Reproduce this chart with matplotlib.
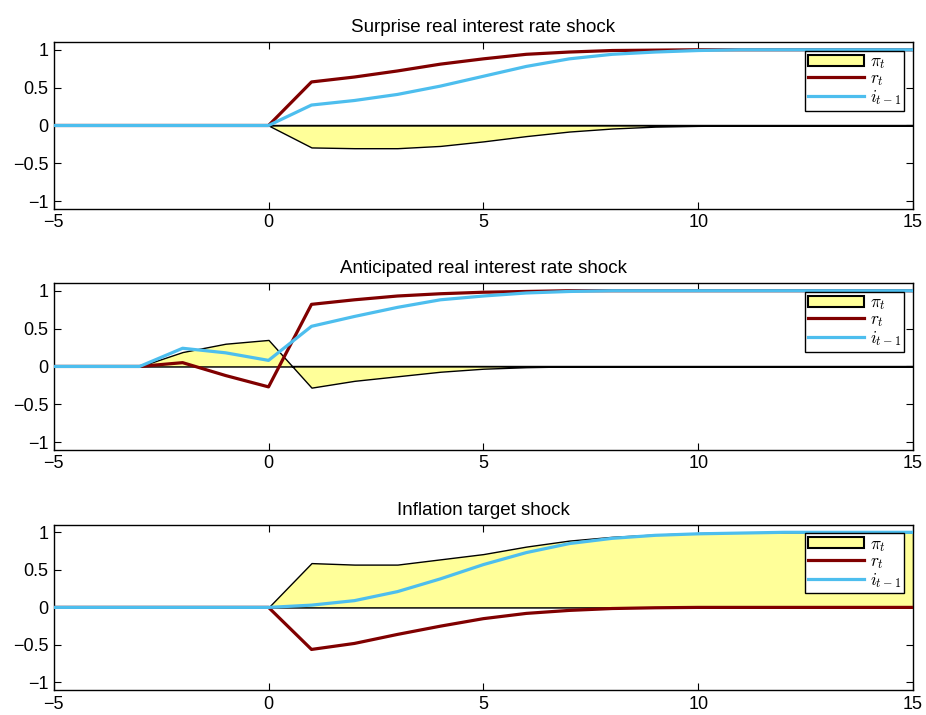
import numpy as np
import matplotlib
matplotlib.use('Agg')
import matplotlib.pyplot as plt

plt.rcParams['font.family'] = ['Liberation Sans', 'DejaVu Sans']
plt.rcParams['mathtext.fontset'] = 'cm'

# periods
t = np.arange(-5, 16)

titles = ['Surprise real interest rate shock',
          'Anticipated real interest rate shock',
          'Inflation target shock']

# responses, one value per period from -5 to 15
pi_surprise = [0, 0, 0, 0, 0, 0, -0.29, -0.30, -0.30, -0.27, -0.21, -0.14, -0.08,
               -0.04, -0.015, -0.005, 0, 0, 0, 0, 0]
r_surprise = [0, 0, 0, 0, 0, 0, 0.575, 0.64, 0.72, 0.81, 0.88, 0.94, 0.97,
              0.99, 0.995, 1, 1, 1, 1, 1, 1]
i_surprise = [0, 0, 0, 0, 0, 0, 0.27, 0.33, 0.41, 0.52, 0.65, 0.78, 0.88,
              0.94, 0.97, 0.99, 1, 1, 1, 1, 1]

pi_anticip = [0, 0, 0, 0.19, 0.30, 0.35, -0.28, -0.19, -0.13, -0.07, -0.03,
              -0.01, 0, 0, 0, 0, 0, 0, 0, 0, 0]
r_anticip = [0, 0, 0, 0.05, -0.12, -0.27, 0.82, 0.88, 0.93, 0.96, 0.98,
             0.99, 1, 1, 1, 1, 1, 1, 1, 1, 1]
i_anticip = [0, 0, 0, 0.24, 0.18, 0.08, 0.53, 0.66, 0.78, 0.88, 0.93,
             0.97, 0.99, 1, 1, 1, 1, 1, 1, 1, 1]

pi_target = [0, 0, 0, 0, 0, 0, 0.59, 0.57, 0.57, 0.64, 0.71, 0.81, 0.89,
             0.94, 0.97, 0.99, 1, 1, 1, 1, 1]
r_target = [0, 0, 0, 0, 0, 0, -0.56, -0.48, -0.36, -0.25, -0.15, -0.08, -0.04,
            -0.015, -0.005, 0, 0, 0, 0, 0, 0]
i_target = [0, 0, 0, 0, 0, 0, 0.03, 0.09, 0.21, 0.38, 0.57, 0.73, 0.85,
            0.92, 0.96, 0.98, 0.99, 1, 1, 1, 1]

pis = [pi_surprise, pi_anticip, pi_target]
rs = [r_surprise, r_anticip, r_target]
iis = [i_surprise, i_anticip, i_target]

xticks = [-5, 0, 5, 10, 15]
yticks = [-1, -0.5, 0, 0.5, 1]
yticklabels = ['\u22121', '\u22120.5', '0', '0.5', '1']

yellow = '#FFFF99'
darkred = '#800000'
lightblue = '#4DBEEE'

fig = plt.figure(figsize=(9.26, 7.15), dpi=100)

# axes boxes in figure fractions (left, bottom, width, height)
boxes = [[0.058, 0.708, 0.928, 0.233],
         [0.058, 0.371, 0.928, 0.233],
         [0.058, 0.035, 0.928, 0.231]]

for k in range(3):
    ax = fig.add_axes(boxes[k])
    ax.axhline(0, color='black', linewidth=1, zorder=1)
    ax.fill_between(t, pis[k], 0, facecolor=yellow, edgecolor='black',
                    linewidth=1, zorder=2, label=r'$\pi_t$')
    ax.plot(t, rs[k], color=darkred, linewidth=2.3, zorder=3, label=r'$r_t$')
    ax.plot(t, iis[k], color=lightblue, linewidth=2.3, zorder=4, label=r'$i_{t-1}$')

    ax.set_xlim(-5, 15)
    ax.set_ylim(-1.1, 1.1)
    ax.set_xticks(xticks)
    ax.set_yticks(yticks)
    ax.set_yticklabels(yticklabels)
    ax.tick_params(direction='in', top=True, right=True, labelsize=13,
                   length=5, width=0.8, pad=4)
    for s in ax.spines.values():
        s.set_linewidth(1)
    ax.set_title(titles[k], fontsize=13.5, pad=7)

    leg = ax.legend(loc='upper right', fontsize=12.5, handlelength=3.2,
                    handleheight=0.6, labelspacing=0.0, borderpad=0.2,
                    borderaxespad=0.5, handletextpad=0.35, fancybox=False,
                    framealpha=1)
    leg.get_frame().set_edgecolor('black')
    leg.get_frame().set_linewidth(1)
    leg.legend_handles[0].set_linewidth(1.5)

plt.savefig('out.png', dpi=100)
